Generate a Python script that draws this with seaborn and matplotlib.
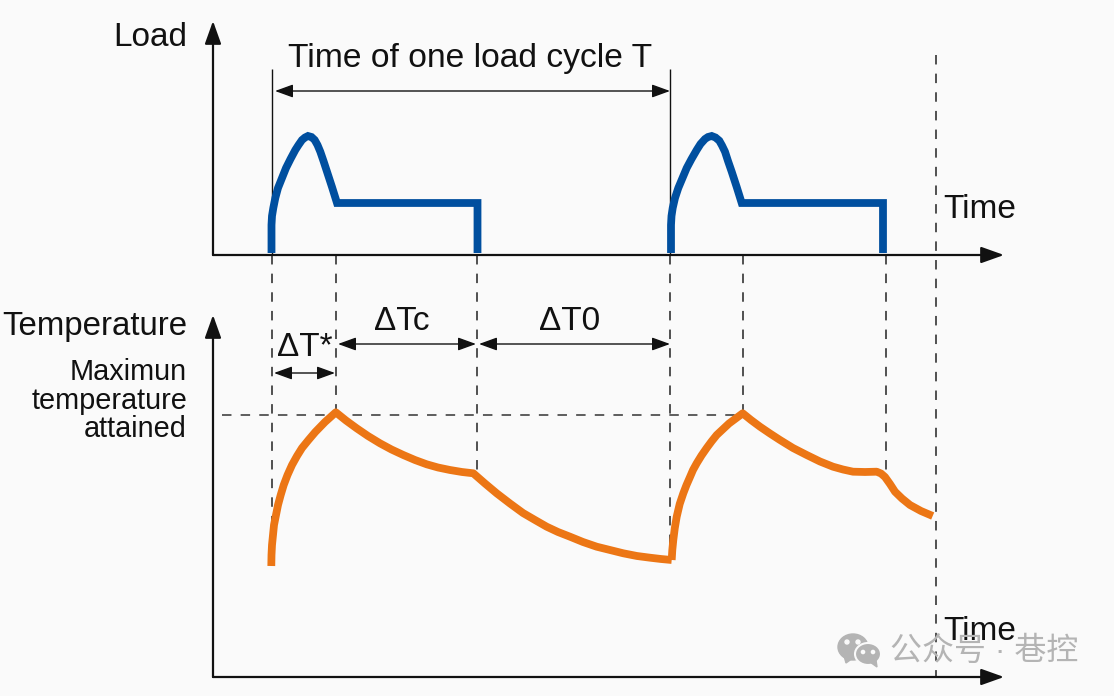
import matplotlib
matplotlib.use("Agg")
import matplotlib.pyplot as plt
from matplotlib.patches import Ellipse, Polygon, Circle
import seaborn as sns
import pandas as pd

load1_x = [271.5, 271.5, 272, 273.3, 275.3, 278, 282, 286, 290.5, 295.3, 298.5, 302, 305, 308, 311.5, 314.7, 317.5, 320.3,
           323.5, 327, 332, 337, 477.5, 477.5]
load1_y = [253, 225, 216, 208, 198, 188, 178, 168, 159, 150, 145, 140, 137.5, 136, 137, 140, 145, 151.7,
           161, 171.7, 187, 203, 203, 253]
load2_x = [671, 671, 671.5, 672.7, 675, 678.3, 682.5, 686.7, 691.5, 696.7, 700.5, 705, 708, 711.7, 715.5, 719.3, 722, 725,
           728, 731.7, 736.7, 741.7, 883, 883]
load2_y = [253, 225, 216, 208, 198, 188, 178, 168, 159, 150, 144, 139, 137, 136, 137.5, 140.7, 145.5, 151.7,
           161, 171.7, 187, 203, 203, 253]

temp1_x = [271.3, 271.5, 272, 273, 274, 276, 278, 280.7, 283.7, 287.5, 292, 297, 302, 308.5, 315.3, 325, 335.8,
           346, 356.7, 368, 380, 391.5, 403.3, 415, 426.7, 438, 450, 462, 473.3,
           485, 496.7, 510, 523, 535, 546.7, 558, 570, 583, 596.7, 610, 623.3, 637, 650, 661, 671.7]
temp1_y = [566, 555, 545, 535, 525, 515, 505, 495, 485, 475, 465, 456, 448, 440, 432, 422, 412.3,
           420.5, 428.3, 436, 443.3, 449.5, 455, 460, 464.3, 467.5, 470, 472, 473.3,
           483.5, 493.3, 503.5, 513, 520, 526.7, 532, 536.7, 542, 546.7, 550, 553.3, 556, 557.7, 559, 560]
temp2_x = [671.7, 672.3, 673.3, 674.8, 676.7, 679.7, 683.3, 686.5, 690, 693, 696.7, 701.5, 706.7, 711.5, 716.7, 729, 742.7,
           751, 760, 770, 780, 793, 806.7, 820, 833, 843, 853, 865, 876.7, 881, 885, 890, 895, 902, 910, 921, 932.7]
temp2_y = [560, 550, 540, 528, 516.7, 504, 493.3, 485, 477, 470, 463.3, 455.5, 448, 441.5, 435, 423.5, 413.3,
           420, 426.7, 433.5, 440, 448, 455, 461.5, 466.7, 469.5, 471.7, 472, 471.7, 473.5, 477, 484, 491.7, 498.5, 505, 511, 516]

dash_x = [272, 336, 477, 670, 743, 886, 936]
dash_top = [255, 255, 255, 255, 255, 255, 55]
dash_bottom = [530, 412, 476, 558, 412, 474, 677]

blue = "#004f9f"
orange = "#ec7615"
bg = "#fafafa"

sns.set_theme(style="white", rc={"figure.facecolor": bg, "axes.facecolor": bg})
plt.rcParams['font.family'] = ['Liberation Sans', 'Noto Sans CJK SC', 'DejaVu Sans']

fig = plt.figure(figsize=(11.14, 6.96), dpi=100)
ax = fig.add_axes([0, 0, 1, 1])


def arrow(x0, y0, x1, y1, style="-|>", lw=1.0, hl=1.1, hw=0.4):
    ax.annotate("", xy=(x1, y1), xytext=(x0, y0),
                arrowprops=dict(arrowstyle=f"{style},head_length={hl},head_width={hw}",
                                color="#111111", lw=lw, shrinkA=0, shrinkB=0, mutation_scale=10))


# guide lines
ax.vlines(dash_x, dash_top, dash_bottom, color="#222222", lw=1.1, linestyle=(0, (6.2, 6)))
ax.hlines(415, 222, 743, color="#333333", lw=1.1, linestyle=(0, (6.2, 6)))
ax.vlines([272, 670], 69, 255, color="#111111", lw=1.0)

# curves
for xs, ys, col, join in [(load1_x, load1_y, blue, "miter"), (load2_x, load2_y, blue, "miter"),
                          (temp1_x, temp1_y, orange, "round"), (temp2_x, temp2_y, orange, "round")]:
    df = pd.DataFrame({"x": xs, "y": ys})
    sns.lineplot(data=df, x="x", y="y", sort=False, estimator=None, color=col, lw=5.6, ax=ax,
                 solid_joinstyle=join, solid_capstyle="butt", zorder=3)

# axes
arrow(213, 255, 213, 21, lw=1.6, hl=1.4, hw=0.5)
arrow(213, 255, 1004, 255, lw=1.6, hl=1.4, hw=0.5)
arrow(213, 677, 213, 315, lw=1.6, hl=1.4, hw=0.5)
arrow(213, 677, 1004, 677, lw=1.6, hl=1.4, hw=0.5)

# spans
arrow(275, 91, 670, 91, style="<|-|>")
arrow(338, 344, 476, 344, style="<|-|>")
arrow(479, 344, 670, 344, style="<|-|>")
arrow(274, 373, 335, 373, style="<|-|>")

# text
fs = 24
txt = "#111111"
ax.text(187, 38, "Load", ha="right", va="center", fontsize=fs, color=txt)
ax.text(288, 58, "Time of one load cycle T", ha="left", va="center", fontsize=24.2, color=txt)
ax.text(943, 210, "Time", ha="left", va="center", fontsize=fs, color=txt)
ax.text(187, 326, "Temperature", ha="right", va="center", fontsize=23.8, color=txt)
ax.text(277, 348, "ΔT*", ha="left", va="center", fontsize=fs, color=txt)
ax.text(402, 322, "ΔTc", ha="center", va="center", fontsize=fs, color=txt)
ax.text(570, 322, "ΔT0", ha="center", va="center", fontsize=fs, color=txt)
ax.text(187, 372, "Maximun", ha="right", va="center", fontsize=20.8, color=txt)
ax.text(187, 401, "temperature", ha="right", va="center", fontsize=20.8, color=txt)
ax.text(187, 429, "attained", ha="right", va="center", fontsize=20.8, color=txt)
ax.text(943, 631, "Time", ha="left", va="center", fontsize=fs, color=txt)

# watermark
wm = "#b4b4b4"
ax.add_patch(Ellipse((853, 647), 30, 26, color=wm, zorder=5))
ax.add_patch(Polygon([(844, 656), (846, 663), (853, 658)], color=wm, zorder=5))
ax.add_patch(Ellipse((868, 654), 26, 22, fc=wm, ec=bg, lw=1.5, zorder=6))
ax.add_patch(Polygon([(870, 662), (877, 667), (876, 660)], color=wm, zorder=6))
for cx, cy, r in [(847, 642, 2), (858, 642, 2), (863, 652, 1.6), (873, 652, 1.6)]:
    ax.add_patch(Circle((cx, cy), r, color=bg, zorder=7))
ax.text(890, 652, "公众号 · 巷控", ha="left", va="center", fontsize=23, color=wm, zorder=5)

ax.set_xlim(0, 1114)
ax.set_ylim(696, 0)
ax.axis("off")

fig.savefig("out.png", dpi=100, facecolor=bg)
